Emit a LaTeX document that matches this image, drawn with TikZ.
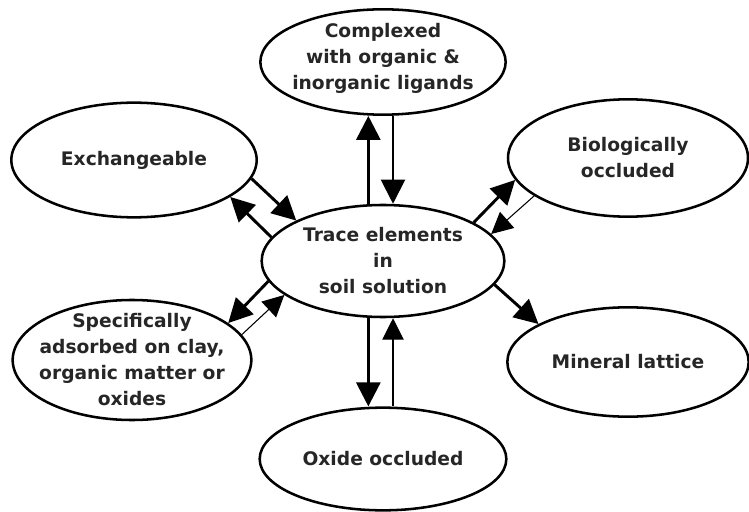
\documentclass[tikz,border=0pt]{standalone}
\usepackage{fontspec}
\setmainfont{DejaVu Sans}
\usetikzlibrary{shapes.geometric, arrows.meta}

\begin{document}
\begin{tikzpicture}[
  x = 0.75pt, y = 0.75pt,
  pool/.style={draw, ellipse, line width=1.9pt, inner sep=0pt, minimum width=182pt, minimum height=84pt},
  pooltext/.style={align=center, inner sep=0pt, text=black!85, font=\bfseries\fontsize{14}{19.5}\selectfont},
  flow/.style={-{Triangle[length=18pt, width=18pt]}, line width=2.2pt, color=black},
  backflow/.style={-{Triangle[length=16pt, width=16pt]}, line width=0.8pt, color=black}
]
    \useasboundingbox (0, 0) rectangle (749, 511);

    % Trace elements in soil solution
    \node (solution) at (383, 250) [pool, label={[pooltext, name=solution text]center:Trace elements\\in\\soil solution}] {};

    % Complexed
    \node (complexed) at (383, 449) [pool, minimum width=184pt, minimum height=79pt, label={[pooltext, name=complexed text, yshift=3pt]center:Complexed\\with organic \&\\inorganic ligands}] {};

    % Exchangeable
    \node (exchangeable) at (134, 351) [pool, minimum width=184pt, minimum height=86pt, label={[pooltext, name=exchangeable text]center:Exchangeable}] {};

    % Biologically occluded
    \node (biological) at (628, 353) [pool, minimum width=180pt, minimum height=88pt, label={[pooltext, name=biological text]center:Biologically\\occluded}] {};

    % Mineral lattice
    \node (mineral) at (628, 149) [pool, minimum width=181pt, minimum height=82pt, label={[pooltext, name=mineral text]center:Mineral lattice}] {};

    % Specifically adsorbed
    \node (adsorbed) at (132, 151) [pool, minimum width=179pt, minimum height=90pt, label={[pooltext, name=adsorbed text]center:Specifically\\adsorbed on clay,\\organic matter or\\oxides}] {};

    % Oxide occluded
    \node (oxide) at (383, 52) [pool, minimum width=185pt, minimum height=77pt, label={[pooltext, name=oxide text]center:Oxide occluded}] {};

    % Arrows
    \draw[flow] ([xshift=-11pt]solution.north) -- ([xshift=-11pt]complexed.south);
    \draw[flow, line width=1.5pt] ([xshift=7.5pt]complexed.south) -- ([xshift=7.5pt]solution.north);
    \draw[flow] ([xshift=-11pt]solution.south) -- ([xshift=-11pt]oxide.north);
    \draw[backflow] ([xshift=7.5pt]oxide.north) -- ([xshift=7.5pt]solution.south);
    \draw[flow] (exchangeable.351) -- (solution.155);
    \draw[flow] (solution.168) -- (exchangeable.339);
    \draw[flow] (solution.23) -- (biological.191);
    \draw[backflow] (biological.202) -- (solution.14);
    \draw[flow] (solution.348) -- (mineral.157);
    \draw[flow] (solution.190) -- (adsorbed.21);
    \draw[backflow] (adsorbed.13) -- (solution.199);
\end{tikzpicture}
\end{document}
